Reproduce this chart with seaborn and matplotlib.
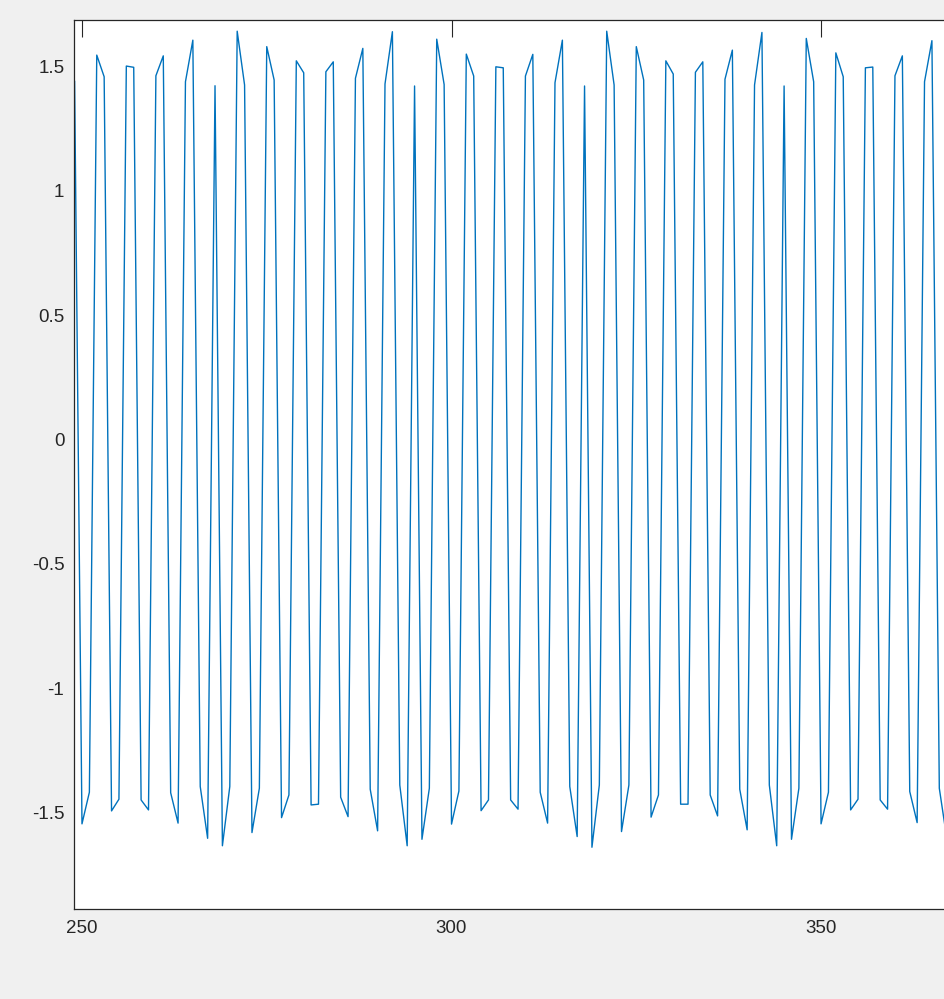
import numpy as np
import pandas as pd
import matplotlib
matplotlib.use("Agg")
import matplotlib.pyplot as plt
import seaborn as sns

# sample index and the signal values
samples = list(range(249, 368))
values = [
    1.44, -1.544, -1.417, 1.544, 1.457, -1.492, -1.445, 1.50, 1.495, -1.448,
    -1.488, 1.461, 1.541, -1.419, -1.541, 1.437, 1.604, -1.394, -1.602, 1.421,
    -1.632, -1.394, 1.64, 1.424, -1.579, -1.401, 1.578, 1.444, -1.519, -1.428,
    1.521, 1.473, -1.468, -1.465, 1.477, 1.517, -1.437, -1.515, 1.451, 1.571,
    -1.405, -1.572, 1.428, 1.638, -1.388, -1.632, 1.42, -1.606, -1.401, 1.608,
    1.426, -1.545, -1.412, 1.548, 1.46, -1.491, -1.448, 1.497, 1.493, -1.448,
    -1.485, 1.46, 1.547, -1.417, -1.541, 1.433, 1.604, -1.394, -1.595, 1.42,
    -1.638, -1.388, 1.64, 1.424, -1.575, -1.388, 1.578, 1.444, -1.517, -1.428,
    1.521, 1.468, -1.465, -1.465, 1.475, 1.517, -1.428, -1.512, 1.447, 1.564,
    -1.405, -1.568, 1.424, 1.635, -1.388, -1.632, 1.42, -1.606, -1.401, 1.611,
    1.437, -1.544, -1.417, 1.553, 1.457, -1.488, -1.445, 1.493, 1.496, -1.448,
    -1.485, 1.461, 1.541, -1.414, -1.539, 1.437, 1.602, -1.401, -1.60,
]

x_ticks = [250, 300, 350]
x_tick_labels = ["250", "300", "350"]
y_ticks = [-1.5, -1, -0.5, 0, 0.5, 1, 1.5]
y_tick_labels = ["-1.5", "-1", "-0.5", "0", "0.5", "1", "1.5"]

df = pd.DataFrame({"n": samples, "value": values})

sns.set_style("white")
plt.rcParams['font.family'] = ['Liberation Sans', 'DejaVu Sans']

fig = plt.figure(figsize=(9.45, 9.99), dpi=100, facecolor="#f0f0f0")
# the axes runs past the right edge of the window, as in the screenshot
ax = fig.add_axes([74 / 945, 90 / 999, (960 - 74) / 945, 889 / 999])
ax.set_facecolor("white")

sns.lineplot(data=df, x="n", y="value", ax=ax, color="#0072BD", linewidth=1.0,
             estimator=None, sort=False)

ax.set_xlim(248.92, 368.8)
ax.set_ylim(-1.886, 1.685)
ax.set_xticks(x_ticks)
ax.set_xticklabels(x_tick_labels)
ax.set_yticks(y_ticks)
ax.set_yticklabels(y_tick_labels)
ax.set_xlabel("")
ax.set_ylabel("")

ax.tick_params(direction="in", length=12, width=0.8, color="#262626",
               labelsize=13.5, labelcolor="#262626", top=True, right=False)
ax.tick_params(axis="x", pad=8)
ax.tick_params(axis="y", pad=7)
for side in ["left", "bottom", "top", "right"]:
    ax.spines[side].set_color("#262626")
    ax.spines[side].set_linewidth(0.9)

fig.savefig("out.png", dpi=100, facecolor=fig.get_facecolor())
